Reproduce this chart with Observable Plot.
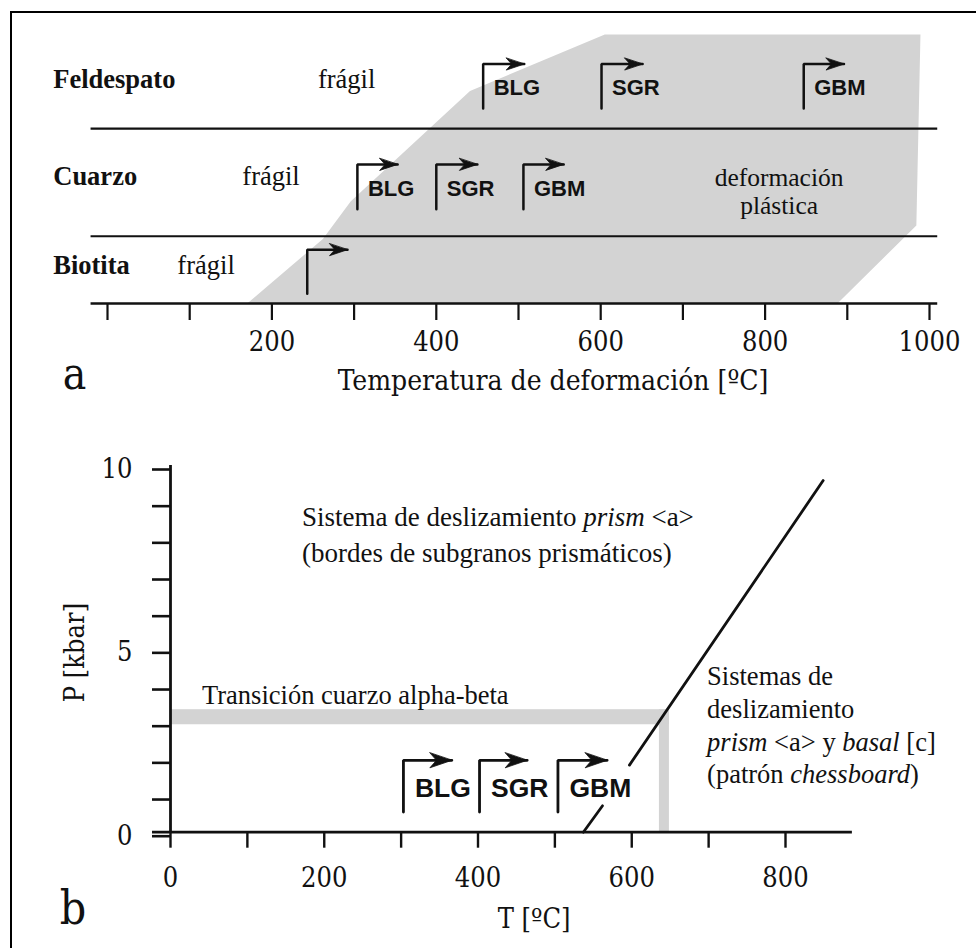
<!DOCTYPE html>
<html><head><meta charset="utf-8">
<script src="https://cdn.jsdelivr.net/npm/d3@7"></script>
<script src="https://cdn.jsdelivr.net/npm/@observablehq/plot@0.6"></script>
<style>
html,body{margin:0;padding:0;background:#fff;}
#page{position:relative;width:976px;height:948px;overflow:hidden;background:#fff;}
#frame{position:absolute;left:10px;top:11px;width:1000px;height:1000px;border-top:2px solid #000;border-left:2px solid #000;box-sizing:border-box;}
#pa{position:absolute;left:0;top:0;}
#pb{position:absolute;left:0;top:420px;}
</style></head><body>
<div id="page"><div id="frame"></div><div id="pa"></div><div id="pb"></div></div>
<script>
const SERIF = "'Liberation Serif','Times New Roman',serif";
const COND = "'DejaVu Serif Condensed','DejaVu Serif',serif";
const SANS = "'Liberation Sans',Arial,sans-serif";
const GRAY = "#d3d3d3";
const INK = "#111";

// ---------- Panel a data ----------
const minerals = ["Feldespato", "Cuarzo", "Biotita"];
const mineralLevel = [80, 44, 11];
const fragilT = [256, 164, 85];
const plasticT = [170, 262, 296, 441, 605, 989, 984, 888];
const plasticLevel = [0, 24, 38, 79, 100, 100, 29, 0];
const dividerLevel = [25, 65];
const arrowName = ["BLG", "SGR", "GBM", "BLG", "SGR", "GBM", ""];
const arrowT = [457, 601, 847, 304, 400, 506, 243];
const arrowTipT = [507, 651, 896, 353, 450, 555, 292];
const arrowBase = [72.5, 72.5, 72.5, 35, 35, 35, 3.6];
const arrowTop = [89, 89, 89, 51.7, 51.7, 51.7, 20];
const tempTicks = [0, 100, 200, 300, 400, 500, 600, 700, 800, 900, 1000];
const tempLabels = [200, 400, 600, 800, 1000];
const plasticText = "deformación\nplástica";
const axisTitleA = "Temperatura de deformación [ºC]";

// ---------- Panel b data ----------
const bTicksX = [0, 100, 200, 300, 400, 500, 600, 700, 800];
const bLabelsX = [0, 200, 400, 600, 800];
const bTicksY = [0, 1, 2, 3, 4, 5, 6, 7, 8, 9, 10];
const bLabelsY = [0, 5, 10];
const alphaBetaT = [0, 649];
const alphaBetaP = [2.93, 3.34];
const alphaBetaVertT = [636, 649];
const boundaryT = [537, 562, 597, 849];
const boundaryP = [0, 0.72, 1.83, 9.59];
const boundarySeg = [0, 0, 1, 1];
const bArrowName = ["BLG", "SGR", "GBM"];
const bArrowT = [303, 402, 504];
const bArrowTipT = [366, 464, 568];
const bArrowBase = [0.55, 0.55, 0.55];
const bArrowTop = [1.96, 1.96, 1.96];
const textPrism = "Sistema de deslizamiento *prism* <a>\n(bordes de subgranos prismáticos)";
const textAlpha = "Transición cuarzo alpha-beta";
const textBasal = "Sistemas de\ndeslizamiento\n*prism* <a> y *basal* [c]\n(patrón *chessboard*)";

const headShape = (w) => ({
  draw(ctx, l) {
    ctx.moveTo(0, -l);
    ctx.lineTo(w / 2, 0);
    ctx.lineTo(0, -l * 0.3);
    ctx.lineTo(-w / 2, 0);
    ctx.closePath();
  }
});

function italicize(svg) {
  svg.querySelectorAll("text, tspan").forEach(el => {
    if (el.childNodes.length === 1 && el.firstChild.nodeType === 3 && el.textContent.includes("*")) {
      const parts = el.textContent.split("*");
      el.textContent = "";
      parts.forEach((p, i) => {
        if (!p) return;
        const t = document.createElementNS("http://www.w3.org/2000/svg", "tspan");
        if (i % 2) t.setAttribute("font-style", "italic");
        t.textContent = p;
        el.appendChild(t);
      });
    }
  });
}

// ---------- build panel a ----------
const polyA = plasticT.map((t, i) => ({t, l: plasticLevel[i]}));
const arrowsA = arrowT.map((t, i) => ({t, tip: arrowTipT[i], base: arrowBase[i], top: arrowTop[i], name: arrowName[i], i}));
const arrowPathA = arrowsA.flatMap(a => [{t: a.t, l: a.base, i: a.i}, {t: a.t, l: a.top, i: a.i}, {t: a.tip, l: a.top, i: a.i}]);
const rowsA = minerals.map((m, i) => ({m, l: mineralLevel[i], f: fragilT[i]}));

const plotA = Plot.plot({
  width: 976, height: 410,
  marginLeft: 107, marginRight: 47, marginTop: 34, marginBottom: 107,
  x: {domain: [0, 1000]},
  y: {domain: [0, 100], axis: null},
  style: {background: "transparent", overflow: "visible", color: INK},
  marks: [
    Plot.line(polyA, {x: "t", y: "l", fill: GRAY, stroke: "none"}),
    Plot.ruleY(dividerLevel, {x1: -20, x2: 1010, stroke: INK, strokeWidth: 2.2}),
    Plot.ruleY([0], {x1: -20, x2: 1010, stroke: INK, strokeWidth: 2.6}),
    Plot.axisX({ticks: tempTicks, tickSize: 17, tickPadding: 11, strokeWidth: 2.2,
      tickFormat: d => tempLabels.includes(d) ? String(d) : "",
      fontSize: 27, fontFamily: COND, label: null}),
    Plot.line(arrowPathA, {x: "t", y: "l", z: "i", stroke: INK, strokeWidth: 2.5, strokeLinejoin: "miter"}),
    Plot.vector(arrowsA, {x: "tip", y: "top", rotate: 90, length: 18, anchor: "end",
      shape: headShape(12), fill: INK, stroke: INK, strokeWidth: 0.8}),
    Plot.text(arrowsA.filter(a => a.name), {x: "t", y: "base", text: "name", dx: 10.5, dy: -13,
      textAnchor: "start", lineAnchor: "bottom", fontFamily: SANS, fontWeight: "bold", fontSize: 22}),
    Plot.text(rowsA, {x: -66, y: "l", text: "m", textAnchor: "start", lineAnchor: "bottom",
      fontFamily: SERIF, fontWeight: "bold", fontSize: 26.5}),
    Plot.text(rowsA, {x: "f", y: "l", text: () => "frágil", textAnchor: "start", lineAnchor: "bottom",
      fontFamily: SERIF, fontSize: 26.5}),
    Plot.text([plasticText], {x: 817, y: 33.2, text: d => d, textAnchor: "middle", lineAnchor: "bottom",
      lineHeight: 1.1, fontFamily: SERIF, fontSize: 25.5}),
    Plot.text([axisTitleA], {x: 542, y: -32.3, text: d => d, textAnchor: "middle", lineAnchor: "bottom",
      fontFamily: COND, fontSize: 28}),
    Plot.text(["a"], {x: -54.5, y: -31.6, text: d => d, textAnchor: "start", lineAnchor: "bottom",
      fontFamily: COND, fontSize: 44})
  ]
});
document.getElementById("pa").appendChild(plotA);

// ---------- build panel b ----------
const arrowsB = bArrowT.map((t, i) => ({t, tip: bArrowTipT[i], base: bArrowBase[i], top: bArrowTop[i], name: bArrowName[i], i}));
const arrowPathB = arrowsB.flatMap(a => [{t: a.t, p: a.base, i: a.i}, {t: a.t, p: a.top, i: a.i}, {t: a.tip, p: a.top, i: a.i}]);
const boundary = boundaryT.map((t, i) => ({t, p: boundaryP[i], s: boundarySeg[i]}));

const plotB = Plot.plot({
  width: 976, height: 528,
  marginLeft: 170, marginRight: 191, marginTop: 45, marginBottom: 116.3,
  x: {domain: [0, 800]},
  y: {domain: [0, 10]},
  style: {background: "transparent", overflow: "visible", color: INK},
  marks: [
    Plot.rect([0], {x1: alphaBetaT[0], x2: alphaBetaT[1], y1: alphaBetaP[0], y2: alphaBetaP[1], fill: GRAY}),
    Plot.rect([0], {x1: alphaBetaVertT[0], x2: alphaBetaVertT[1], y1: 0, y2: alphaBetaP[1], fill: GRAY}),
    Plot.ruleY([0], {x1: -23.4, x2: 887, stroke: INK, strokeWidth: 2.8}),
    Plot.ruleX([0], {y1: 0, y2: 10, stroke: INK, strokeWidth: 2.8}),
    Plot.axisX({ticks: bTicksX, tickSize: 16, tickPadding: 20, strokeWidth: 2.4,
      tickFormat: d => bLabelsX.includes(d) ? String(d) : "",
      fontSize: 27, fontFamily: COND, label: null}),
    Plot.axisY({ticks: bTicksY, tickSize: 18, tickPadding: 20, strokeWidth: 2.6, dy: 4,
      tickFormat: d => bLabelsY.includes(d) ? String(d) : "",
      fontSize: 27, fontFamily: COND, label: null}),
    Plot.line(boundary, {x: "t", y: "p", z: "s", stroke: INK, strokeWidth: 2.8}),
    Plot.line(arrowPathB, {x: "t", y: "p", z: "i", stroke: INK, strokeWidth: 2.8, strokeLinejoin: "miter"}),
    Plot.vector(arrowsB, {x: "tip", y: "top", rotate: 90, length: 22, anchor: "end",
      shape: headShape(15), fill: INK, stroke: INK, strokeWidth: 0.8}),
    Plot.text(arrowsB, {x: "t", y: "base", text: "name", dx: 11.5, dy: -15,
      textAnchor: "start", lineAnchor: "bottom", fontFamily: SANS, fontWeight: "bold", fontSize: 26.5}),
    Plot.text([textPrism], {x: 171, y: 7.38, text: d => d, textAnchor: "start", lineAnchor: "bottom",
      lineHeight: 1.32, fontFamily: SERIF, fontSize: 27}),
    Plot.text([textAlpha], {x: 41, y: 3.5, text: d => d, textAnchor: "start", lineAnchor: "bottom",
      fontFamily: SERIF, fontSize: 26.5}),
    Plot.text([textBasal], {x: 698, y: 1.33, text: d => d, textAnchor: "start", lineAnchor: "bottom",
      lineHeight: 1.234, fontFamily: SERIF, fontSize: 26.5}),
    Plot.text(["P [kbar]"], {x: -113, y: 4.9, text: d => d, rotate: -90, textAnchor: "middle", lineAnchor: "bottom",
      fontFamily: COND, fontSize: 27}),
    Plot.text(["T [ºC]"], {x: 473, y: -2.6, text: d => d, textAnchor: "middle", lineAnchor: "bottom",
      fontFamily: COND, fontSize: 27}),
    Plot.text(["b"], {x: -144, y: -2.49, text: d => d, textAnchor: "start", lineAnchor: "bottom",
      fontFamily: COND, fontSize: 46})
  ]
});
document.getElementById("pb").appendChild(plotB);
italicize(plotB);
</script>
</body></html>
